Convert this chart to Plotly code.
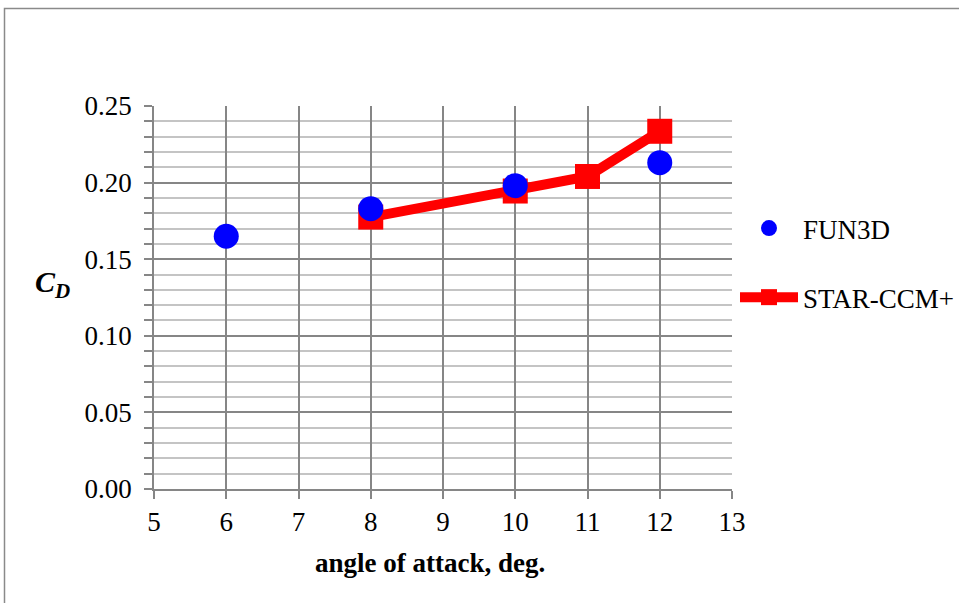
import plotly.graph_objects as go

# Drag coefficient vs. angle of attack
fun3d_alpha = [6, 8, 10, 12]
fun3d_cd = [0.165, 0.183, 0.198, 0.213]

star_alpha = [8, 10, 11, 12]
star_cd = [0.1775, 0.1945, 0.204, 0.2335]

x_ticks = [5, 6, 7, 8, 9, 10, 11, 12, 13]
y_ticks = [0.00, 0.05, 0.10, 0.15, 0.20, 0.25]

FONT = "Liberation Serif, Times New Roman, serif"
GRID_MAJOR = "#868686"
GRID_MINOR = "#c4c4c4"

fig = go.Figure()

# the line series goes first so the circles sit on top of it
fig.add_trace(go.Scatter(
    x=star_alpha, y=star_cd, name="STAR-CCM+", mode="lines+markers",
    line=dict(color="#ff0000", width=10),
    marker=dict(symbol="square", size=25, color="#ff0000"),
    legendgroup="b", legendrank=2,
))
fig.add_trace(go.Scatter(
    x=fun3d_alpha, y=fun3d_cd, name="FUN3D", mode="markers",
    marker=dict(symbol="circle", size=25, color="#0000ff"),
    legendgroup="a", legendrank=1,
))

W, H = 959, 603
L, R, T, B = 154, 227, 106, 114
pw, ph = W - L - R, H - T - B

def px_to_paper_x(px):
    return (px - L) / pw

def px_to_paper_y(py):
    return (H - B - py) / ph

fig.update_layout(
    width=W, height=H,
    margin=dict(l=L, r=R, t=T, b=B, autoexpand=False),
    paper_bgcolor="white", plot_bgcolor="white",
    font=dict(family=FONT, size=27, color="black"),
    showlegend=True,
    legend=dict(
        x=px_to_paper_x(735), y=px_to_paper_y(204), xanchor="left", yanchor="top",
        font=dict(family=FONT, size=27, color="black"),
        traceorder="grouped", tracegroupgap=31,
        itemwidth=58, bgcolor="rgba(0,0,0,0)",
    ),
    xaxis=dict(
        range=[5, 13], tickvals=x_ticks, ticktext=[str(v) for v in x_ticks],
        showgrid=True, gridcolor=GRID_MAJOR, gridwidth=1.5,
        showline=True, linecolor=GRID_MAJOR, linewidth=1.5,
        ticks="outside", ticklen=8, tickcolor=GRID_MAJOR, tickwidth=1.5,
        zeroline=False, tickfont=dict(size=27),
    ),
    yaxis=dict(
        range=[0, 0.25], tickvals=y_ticks, tickformat=".2f",
        showgrid=True, gridcolor=GRID_MAJOR, gridwidth=1.5,
        showline=True, linecolor=GRID_MAJOR, linewidth=1.5,
        ticks="outside", ticklen=8, tickcolor=GRID_MAJOR, tickwidth=1.5,
        zeroline=False, tickfont=dict(size=27), ticklabelstandoff=7,
        minor=dict(dtick=0.01, showgrid=True, gridcolor=GRID_MINOR, gridwidth=1.5,
                   ticks="outside", ticklen=8, tickcolor=GRID_MAJOR),
    ),
    annotations=[
        dict(text="<b>angle of attack, deg.</b>", xref="paper", yref="paper",
             x=px_to_paper_x(430), y=px_to_paper_y(563), xanchor="center", yanchor="middle",
             showarrow=False, font=dict(family=FONT, size=27)),
        dict(text="<b><i>C<sub>D</sub></i></b>", xref="paper", yref="paper",
             x=px_to_paper_x(52), y=px_to_paper_y(284), xanchor="center", yanchor="middle",
             showarrow=False, font=dict(family=FONT, size=30)),
    ],
    shapes=[
        dict(type="rect", xref="paper", yref="paper", layer="below",
             x0=px_to_paper_x(4.5), x1=px_to_paper_x(980),
             y0=px_to_paper_y(620), y1=px_to_paper_y(8.5),
             line=dict(color="#8a8a8a", width=1.5)),
    ],
)

fig.write_html("out.html")
